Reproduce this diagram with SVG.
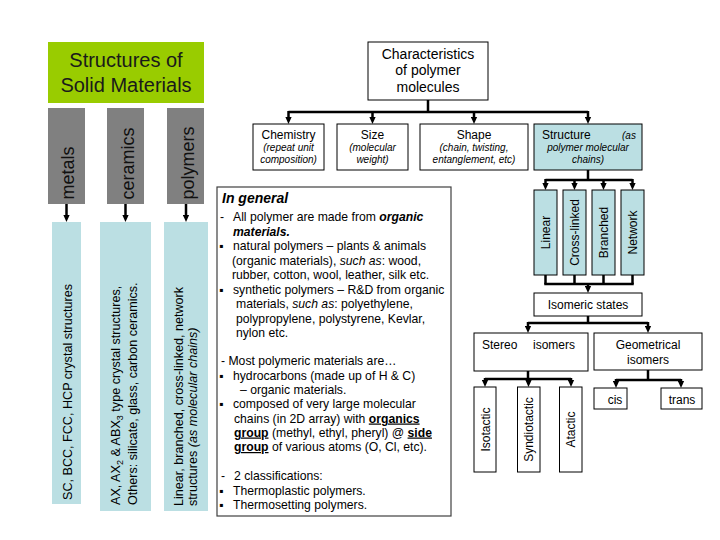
<svg xmlns="http://www.w3.org/2000/svg" width="720" height="540" viewBox="0 0 720 540">
<defs>
<marker id="ah" viewBox="0 0 10 10" refX="2" refY="5" markerWidth="7" markerHeight="7" markerUnits="userSpaceOnUse" orient="auto">
<path d="M0,0.5 L10,5 L0,9.5 z" fill="#000"/>
</marker>
</defs>
<style>
text { font-family: "Liberation Sans", Arial, "DejaVu Sans", sans-serif; fill:#000; }
.title { font-size:20px; text-anchor:middle; fill:#1a1a1a }
.col { fill:#808080 }
.colt { font-size:18px; fill:#111 }
.blue { fill:#BBDFE3 }
.bt { font-size:12.6px }
.box { fill:#fff; stroke:#000; stroke-width:1 }
.bbox { fill:#BBDFE3; stroke:#000; stroke-width:1 }
.lbl { font-size:12px; text-anchor:middle }
.sub { font-size:10px; font-style:italic; text-anchor:middle }
.body { font-size:12.2px }
.bi { font-weight:bold; font-style:italic }
.bu { font-weight:bold; text-decoration:underline }
.it { font-style:italic }
.con { stroke:#000; stroke-width:2.5; fill:none }
.arr { stroke:#000; stroke-width:2.5; fill:none; marker-end:url(#ah) }
</style>
<rect width="720" height="540" fill="#fff"/>

<g id="title">
<rect x="48" y="42" width="156" height="61" fill="#99CC00"/>
<text class="title" x="126" y="67">Structures of</text>
<text class="title" x="126" y="91.5">Solid Materials</text>
</g>

<g id="metals">
<rect class="col" x="48" y="108" width="37" height="96"/>
<text class="colt" transform="translate(74,199.5) rotate(-90)">metals</text>
</g>
<g id="ceramics">
<rect class="col" x="107" y="108" width="37" height="96"/>
<text class="colt" transform="translate(133.5,199.5) rotate(-90)">ceramics</text>
</g>
<g id="polymers">
<rect class="col" x="167" y="108" width="37" height="96"/>
<text class="colt" transform="translate(193.5,199.5) rotate(-90)">polymers</text>
</g>

<g id="metals-desc">
<rect class="blue" x="52" y="222" width="29" height="282"/>
<text class="bt" transform="translate(72,500) rotate(-90)">SC, BCC, FCC, HCP crystal structures</text>
</g>
<g id="ceramics-desc">
<rect class="blue" x="100" y="222" width="51" height="289"/>
<text class="bt" transform="translate(119.5,505) rotate(-90)">AX, AX<tspan font-size="9" dy="3">2</tspan><tspan dy="-3"> &amp; ABX</tspan><tspan font-size="9" dy="3">3</tspan><tspan dy="-3"> type crystal structures,</tspan></text>
<text class="bt" transform="translate(137,505) rotate(-90)">Others: silicate, glass, carbon ceramics.</text>
</g>
<g id="polymers-desc">
<rect class="blue" x="164" y="222" width="44" height="289"/>
<text class="bt" transform="translate(183.3,506) rotate(-90)">Linear, branched, cross-linked, network</text>
<text class="bt" transform="translate(196.7,506) rotate(-90)">structures <tspan class="it">(as molecular chains)</tspan></text>
</g>

<g id="in-general">
<rect x="217" y="187" width="234" height="329" fill="#fff" stroke="#404040" stroke-width="1.2"/>
<text x="222" y="203" font-size="14" class="bi">In general</text>
<text class="body" x="220" y="221">-</text>
<text class="body" x="233" y="221">All polymer are made from <tspan class="bi">organic</tspan></text>
<text class="body bi" x="233" y="235.5">materials.</text>
<text class="body" x="219" y="250">▪</text>
<text class="body" x="233" y="250">natural polymers – plants &amp; animals</text>
<text class="body" x="232" y="264.5">(organic materials), <tspan class="it">such as</tspan>: wood,</text>
<text class="body" x="232" y="279">rubber, cotton, wool, leather, silk etc.</text>
<text class="body" x="219" y="293.5">▪</text>
<text class="body" x="233" y="293.5">synthetic polymers – R&amp;D from organic</text>
<text class="body" x="236" y="308">materials, <tspan class="it">such as</tspan>: polyethylene,</text>
<text class="body" x="236" y="322.5">polypropylene, polystyrene, Kevlar,</text>
<text class="body" x="236" y="337">nylon etc.</text>
<text class="body" x="221" y="365">- Most polymeric materials are…</text>
<text class="body" x="219" y="380">▪</text>
<text class="body" x="233" y="380">hydrocarbons (made up of H &amp; C)</text>
<text class="body" x="240" y="394">– organic materials.</text>
<text class="body" x="219" y="408">▪</text>
<text class="body" x="233" y="408">composed of very large molecular</text>
<text class="body" x="234" y="422.5">chains (in 2D array) with <tspan class="bu">organics</tspan></text>
<text class="body" x="234" y="436.5"><tspan class="bu">group</tspan> (methyl, ethyl, pheryl) @ <tspan class="bu">side </tspan></text>
<text class="body" x="234" y="451"><tspan class="bu">group</tspan> of various atoms (O, Cl, etc).</text>
<text class="body" x="221" y="480">-</text>
<text class="body" x="234" y="480">2 classifications:</text>
<text class="body" x="219" y="494.5">▪</text>
<text class="body" x="233" y="494.5">Thermoplastic polymers.</text>
<text class="body" x="219" y="509">▪</text>
<text class="body" x="233" y="509">Thermosetting polymers.</text>
</g>

<g id="characteristics">
<rect class="box" x="368" y="42" width="120" height="58"/>
<text class="lbl" x="428" y="59" style="font-size:14px">Characteristics</text>
<text class="lbl" x="428" y="75" style="font-size:14px">of polymer</text>
<text class="lbl" x="428" y="91.5" style="font-size:14px">molecules</text>
</g>

<g id="chemistry">
<rect class="box" x="253" y="124" width="71" height="46"/>
<text class="lbl" x="288.5" y="139">Chemistry</text>
<text class="sub" x="288.5" y="151">(repeat unit</text>
<text class="sub" x="288.5" y="163">composition)</text>
</g>
<g id="size">
<rect class="box" x="337" y="124" width="71" height="46"/>
<text class="lbl" x="372.5" y="139">Size</text>
<text class="sub" x="372.5" y="151">(molecular</text>
<text class="sub" x="372.5" y="163">weight)</text>
</g>
<g id="shape">
<rect class="box" x="420" y="124" width="108" height="46"/>
<text class="lbl" x="474" y="139">Shape</text>
<text class="sub" x="474" y="151">(chain, twisting,</text>
<text class="sub" x="474" y="163">entanglement, etc)</text>
</g>
<g id="structure">
<rect class="bbox" x="534" y="124" width="108" height="46"/>
<text class="lbl" x="542" y="139" style="text-anchor:start">Structure</text>
<text class="sub" x="622" y="139" style="text-anchor:start">(as</text>
<text class="sub" x="588" y="151">polymer molecular</text>
<text class="sub" x="588" y="163">chains)</text>
</g>

<g id="linear">
<rect class="bbox" x="534" y="190" width="23" height="85"/>
<text class="lbl" transform="translate(550,232.5) rotate(-90)">Linear</text>
</g>
<g id="cross-linked">
<rect class="bbox" x="563" y="190" width="23" height="85"/>
<text class="lbl" transform="translate(579,232.5) rotate(-90)">Cross-linked</text>
</g>
<g id="branched">
<rect class="bbox" x="592" y="190" width="23" height="85"/>
<text class="lbl" transform="translate(608,232.5) rotate(-90)">Branched</text>
</g>
<g id="network">
<rect class="bbox" x="621" y="190" width="23" height="85"/>
<text class="lbl" transform="translate(637,232.5) rotate(-90)">Network</text>
</g>

<g id="isomeric-states">
<rect class="box" x="534" y="293" width="108" height="23"/>
<text class="lbl" x="588" y="309">Isomeric states</text>
</g>
<g id="stereo-isomers">
<rect class="box" x="474" y="333" width="114" height="38"/>
<text class="lbl" x="482" y="348.5" style="text-anchor:start">Stereo</text>
<text class="lbl" x="533" y="348.5" style="text-anchor:start">isomers</text>
</g>
<g id="geometrical-isomers">
<rect class="box" x="594" y="333" width="108" height="37"/>
<text class="lbl" x="648" y="348.5">Geometrical</text>
<text class="lbl" x="648" y="363.5">isomers</text>
</g>
<g id="isotactic">
<rect class="box" x="474" y="387" width="22" height="85"/>
<text class="lbl" transform="translate(489.5,429.5) rotate(-90)">Isotactic</text>
</g>
<g id="syndiotactic">
<rect class="box" x="517.5" y="387" width="22.5" height="85"/>
<text class="lbl" transform="translate(533,429.5) rotate(-90)">Syndiotactic</text>
</g>
<g id="atactic">
<rect class="box" x="559.5" y="387" width="22.5" height="85"/>
<text class="lbl" transform="translate(575,429.5) rotate(-90)">Atactic</text>
</g>
<g id="cis">
<rect class="box" x="594" y="388" width="33" height="21"/>
<text class="lbl" x="615" y="403.5">cis</text>
</g>
<g id="trans">
<rect class="box" x="661" y="388" width="41" height="21"/>
<text class="lbl" x="682" y="403.5">trans</text>
</g>

<g id="connectors">
<line class="arr" x1="66.5" y1="204" x2="66.5" y2="216.4"/>
<line class="arr" x1="125.5" y1="204" x2="125.5" y2="216.4"/>
<line class="arr" x1="186" y1="204" x2="186" y2="216.4"/>

<line class="con" x1="428" y1="100" x2="428" y2="112"/>
<line class="con" x1="288.5" y1="112" x2="588" y2="112"/>
<line class="arr" x1="288.5" y1="111" x2="288.5" y2="118.4"/>
<line class="arr" x1="372.5" y1="112" x2="372.5" y2="118.4"/>
<line class="arr" x1="474" y1="112" x2="474" y2="118.4"/>
<line class="arr" x1="588" y1="111" x2="588" y2="118.4"/>

<line class="con" x1="588" y1="170" x2="588" y2="180"/>
<line class="con" x1="545.5" y1="180" x2="632.5" y2="180"/>
<line class="arr" x1="545.5" y1="179" x2="545.5" y2="184.4"/>
<line class="arr" x1="574.5" y1="180" x2="574.5" y2="184.4"/>
<line class="arr" x1="603.5" y1="180" x2="603.5" y2="184.4"/>
<line class="arr" x1="632.5" y1="179" x2="632.5" y2="184.4"/>

<line class="con" x1="545.5" y1="275" x2="545.5" y2="284"/>
<line class="con" x1="574.5" y1="275" x2="574.5" y2="284"/>
<line class="con" x1="603.5" y1="275" x2="603.5" y2="284"/>
<line class="con" x1="632.5" y1="275" x2="632.5" y2="284"/>
<line class="con" x1="544.25" y1="284" x2="633.75" y2="284"/>
<line class="arr" x1="588" y1="284" x2="588" y2="287.4"/>

<line class="con" x1="588" y1="316" x2="588" y2="323"/>
<line class="con" x1="528" y1="323" x2="648" y2="323"/>
<line class="arr" x1="528" y1="322" x2="528" y2="327.4"/>
<line class="arr" x1="648" y1="322" x2="648" y2="327.4"/>

<line class="con" x1="528" y1="371" x2="528" y2="379"/>
<line class="con" x1="485" y1="379" x2="571" y2="379"/>
<line class="arr" x1="485" y1="378" x2="485" y2="381.4"/>
<line class="arr" x1="528.5" y1="379" x2="528.5" y2="381.4"/>
<line class="arr" x1="571" y1="378" x2="571" y2="381.4"/>

<line class="con" x1="648" y1="370" x2="648" y2="380"/>
<line class="con" x1="616" y1="380" x2="681" y2="380"/>
<line class="arr" x1="616" y1="379" x2="616" y2="382.4"/>
<line class="arr" x1="681" y1="379" x2="681" y2="382.4"/>
</g>
</svg>
